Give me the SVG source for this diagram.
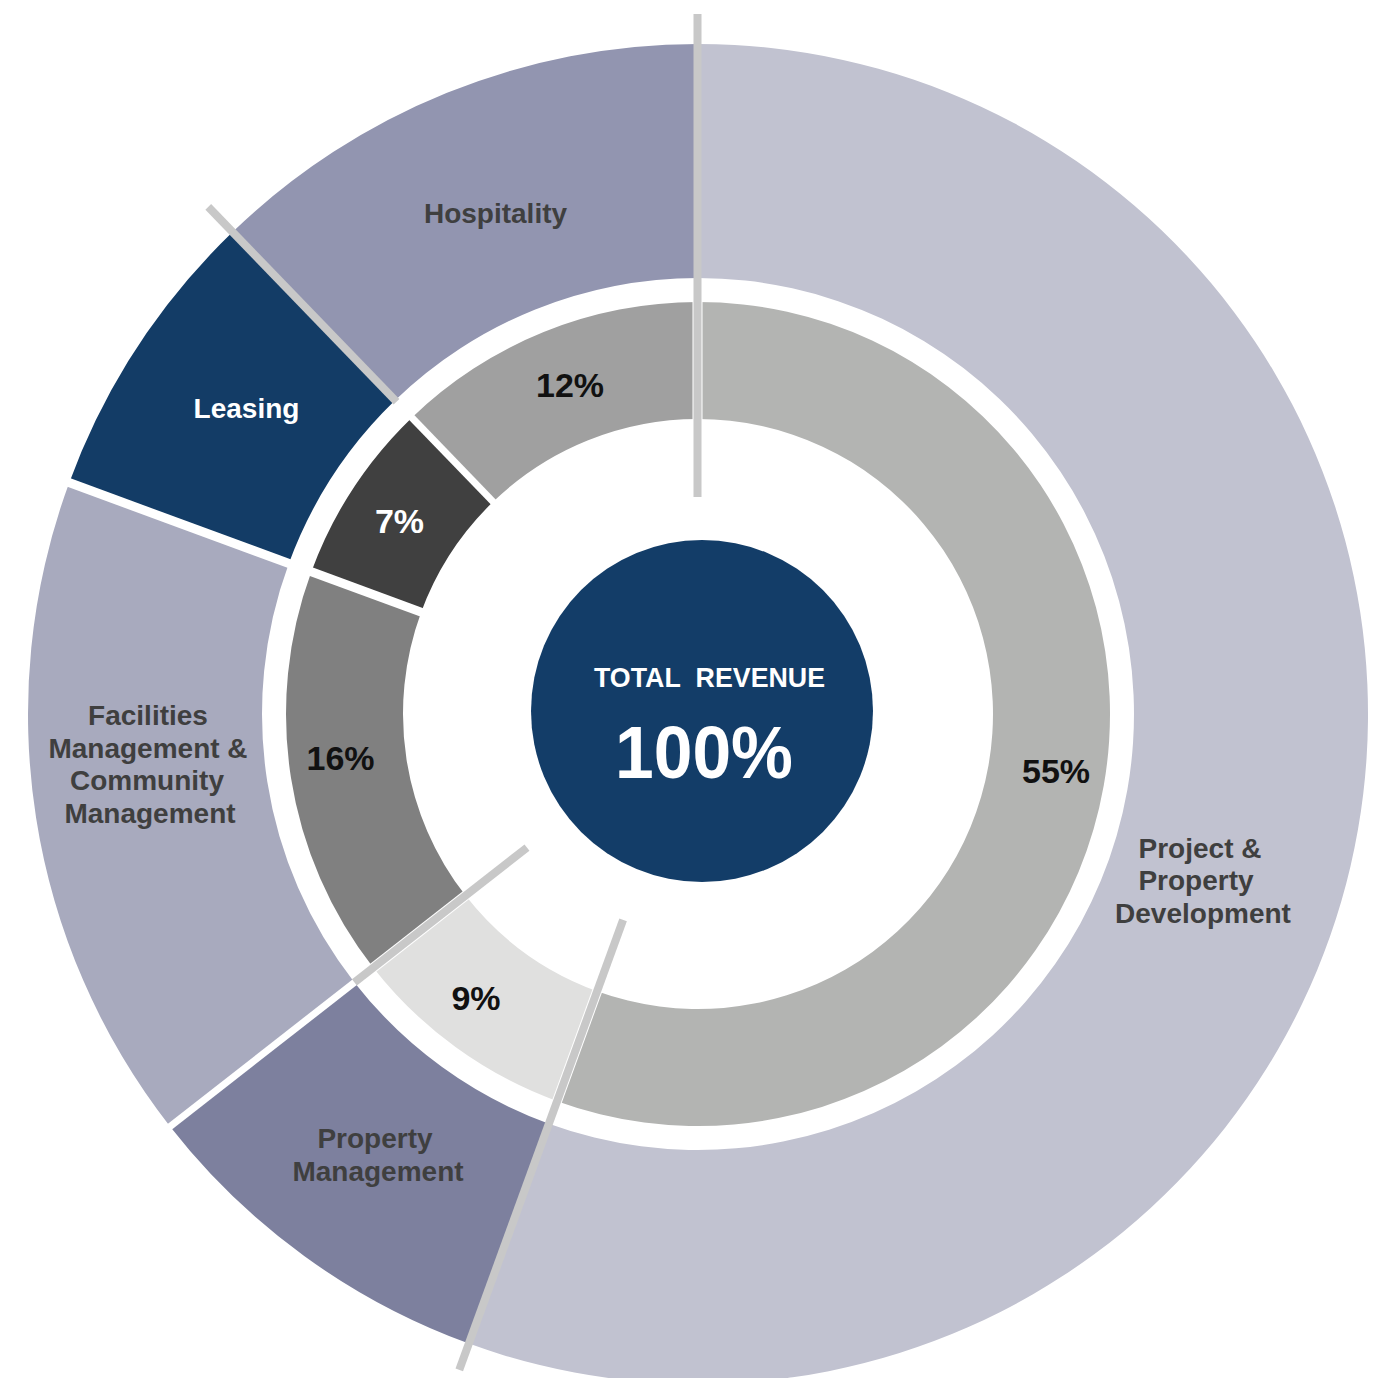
<svg xmlns="http://www.w3.org/2000/svg" width="1382" height="1378" viewBox="0 0 1382 1378">
<style>
.lbl{font-family:"Liberation Sans",Arial,sans-serif;font-weight:700;font-size:28px;fill:#3f3f3f;text-anchor:middle}
.pct{font-family:"Liberation Sans",Arial,sans-serif;font-weight:700;font-size:34px;fill:#111111;text-anchor:middle}
.wsep{stroke:#ffffff;fill:none;stroke-linecap:butt}
.gsep{stroke:#c8c8c8;stroke-width:8;fill:none;stroke-linecap:butt}
</style>
<rect width="1382" height="1378" fill="#ffffff"/>
<g id="outer-ring">
  <g id="ppd">
    <path d="M 698 44 A 670 670 0 1 1 468.85 1343.59 L 548.88 1123.71 A 436 436 0 1 0 698 278 Z" fill="#c1c2d0"/>
    <text class="lbl" x="1200" y="858">Project &amp;</text>
    <text class="lbl" x="1196" y="890">Property</text>
    <text class="lbl" x="1203" y="923">Development</text>
  </g>
  <g id="property-management">
    <path d="M 468.85 1343.59 A 670 670 0 0 1 170.03 1126.49 L 354.43 982.43 A 436 436 0 0 0 548.88 1123.71 Z" fill="#7d809e"/>
    <text class="lbl" x="375" y="1148">Property</text>
    <text class="lbl" x="378" y="1181">Management</text>
  </g>
  <g id="facilities">
    <path d="M 170.03 1126.49 A 670 670 0 0 1 69.21 482.65 L 288.82 563.45 A 436 436 0 0 0 354.43 982.43 Z" fill="#a8aabe"/>
    <text class="lbl" x="148" y="725">Facilities</text>
    <text class="lbl" x="148" y="757.5">Management &amp;</text>
    <text class="lbl" x="147" y="790">Community</text>
    <text class="lbl" x="150" y="822.5">Management</text>
  </g>
  <g id="leasing">
    <path d="M 69.21 482.65 A 670 670 0 0 1 232.58 232.04 L 395.13 400.37 A 436 436 0 0 0 288.82 563.45 Z" fill="#133c66"/>
    <text class="lbl" x="246.5" y="418" style="fill:#ffffff">Leasing</text>
  </g>
  <g id="hospitality">
    <path d="M 232.58 232.04 A 670 670 0 0 1 698 44 L 698 278 A 436 436 0 0 0 395.13 400.37 Z" fill="#9295b0"/>
    <text class="lbl" x="495.5" y="223">Hospitality</text>
  </g>
</g>
<g id="inner-ring">
  <g id="pct-55">
    <path d="M 698 302 A 412 412 0 1 1 557.09 1101.15 L 597.10 991.21 A 295 295 0 1 0 698 419 Z" fill="#b3b4b2"/>
    <text class="pct" x="1056" y="783">55%</text>
  </g>
  <g id="pct-9">
    <path d="M 557.09 1101.15 A 412 412 0 0 1 373.34 967.65 L 465.54 895.62 A 295 295 0 0 0 597.10 991.21 Z" fill="#e0e0df"/>
    <text class="pct" x="476" y="1010">9%</text>
  </g>
  <g id="pct-16">
    <path d="M 373.34 967.65 A 412 412 0 0 1 311.34 571.74 L 421.14 612.14 A 295 295 0 0 0 465.54 895.62 Z" fill="#808080"/>
    <text class="pct" x="340.5" y="770">16%</text>
  </g>
  <g id="pct-7">
    <path d="M 311.34 571.74 A 412 412 0 0 1 411.80 417.63 L 493.08 501.79 A 295 295 0 0 0 421.14 612.14 Z" fill="#404040"/>
    <text class="pct" x="399.5" y="533" style="fill:#ffffff">7%</text>
  </g>
  <g id="pct-12">
    <path d="M 411.80 417.63 A 412 412 0 0 1 698 302 L 698 419 A 295 295 0 0 0 493.08 501.79 Z" fill="#a0a0a0"/>
    <text class="pct" x="570" y="397">12%</text>
  </g>
</g>
<g id="connectors">
  <line class="wsep" stroke-width="9" x1="294.45" y1="565.52" x2="63.58" y2="480.58"/>
  <line class="wsep" stroke-width="7" x1="359.16" y1="978.73" x2="165.30" y2="1130.19"/>
  <line class="wsep" stroke-width="10" x1="697.5" y1="424" x2="697.5" y2="297"/>
  <line class="wsep" stroke-width="10" x1="598.81" y1="986.51" x2="555.38" y2="1105.85"/>
  <line class="wsep" stroke-width="10" x1="469.48" y1="892.54" x2="369.40" y2="970.73"/>
  <line class="wsep" stroke-width="9" x1="425.84" y1="613.86" x2="306.65" y2="570.01"/>
  <line class="wsep" stroke-width="7" x1="496.55" y1="505.39" x2="408.33" y2="414.04"/>
  <line class="gsep" x1="697.5" y1="14" x2="697.5" y2="497"/>
  <line class="gsep" x1="396.52" y1="401.81" x2="208.27" y2="206.86"/>
  <line class="gsep" x1="527.0" y1="847.6" x2="354.43" y2="982.43"/>
  <line class="gsep" x1="623.1" y1="919.8" x2="459.27" y2="1369.91"/>
</g>
<g id="total-revenue">
  <circle cx="702" cy="711" r="171" fill="#133d68"/>
  <text x="709.5" y="687" textLength="231" lengthAdjust="spacingAndGlyphs" style="font-family:'Liberation Sans',Arial,sans-serif;font-weight:700;font-size:28px;fill:#ffffff;text-anchor:middle">TOTAL&#160;&#160;REVENUE</text>
  <text x="704" y="778" textLength="178" lengthAdjust="spacingAndGlyphs" style="font-family:'Liberation Sans',Arial,sans-serif;font-weight:700;font-size:75px;fill:#ffffff;text-anchor:middle">100%</text>
</g>
</svg>
